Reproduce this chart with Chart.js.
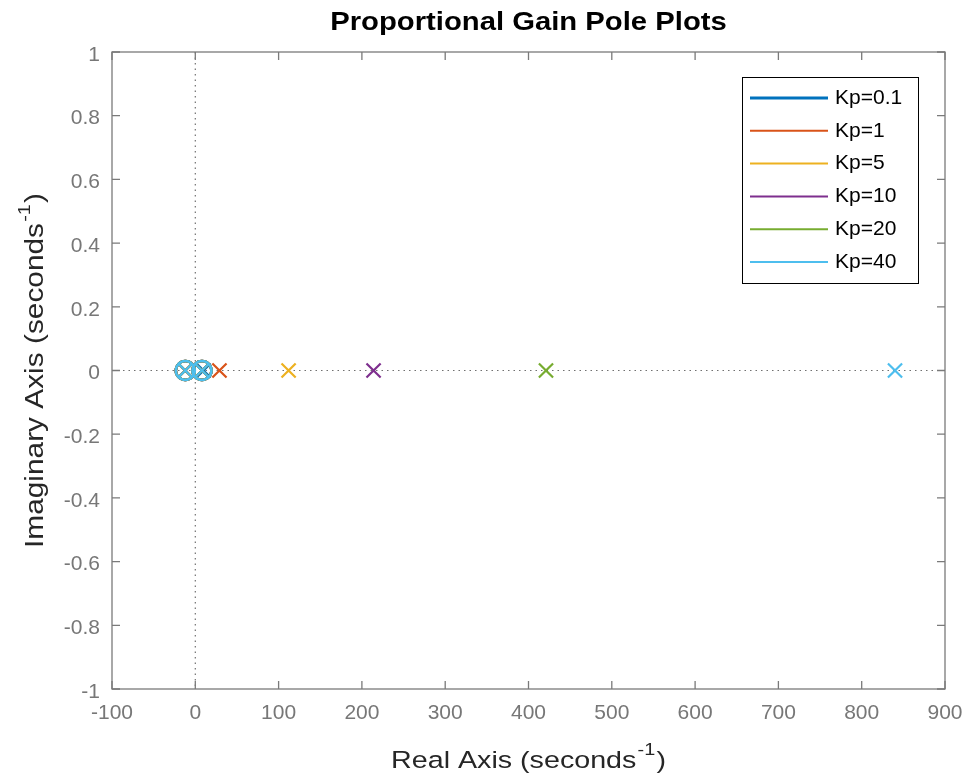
<!DOCTYPE html>
<html><head><meta charset="utf-8">
<script src="https://cdn.jsdelivr.net/npm/chart.js@4/dist/chart.umd.min.js"></script>
<style>html,body{margin:0;padding:0;background:#fff}#wrap{width:969px;height:779px}</style>
</head><body><div id="wrap"><canvas id="c" width="969" height="779"></canvas></div>
<script>
// ---- data ----
const seriesLabels = ['Kp=0.1','Kp=1','Kp=5','Kp=10','Kp=20','Kp=40'];
const seriesColors = ['#0072BD','#D95319','#EDB120','#7E2F8E','#77AC30','#4DBEEE'];
const mainPoleReal = [10, 29, 112, 214, 421, 840];
const clusterPoleRealA = [-12, -12, -12, -12, -12, -12];
const clusterPoleRealB = [8, 8, 8, 8, 8, 8];
const zeroRealA = [-12, -12, -12, -12, -12, -12];
const zeroRealB = [8, 8, 8, 8, 8, 8];
const imagPart = [0, 0, 0, 0, 0, 0];
const xTickValues = [-100, 0, 100, 200, 300, 400, 500, 600, 700, 800, 900];
const yTickValues = [-1, -0.8, -0.6, -0.4, -0.2, 0, 0.2, 0.4, 0.6, 0.8, 1];
const yTickLabels = ['-1','-0.8','-0.6','-0.4','-0.2','0','0.2','0.4','0.6','0.8','1'];
const chartTitle = 'Proportional Gain Pole Plots';
const xTitleParts = ['Real Axis (seconds', '-1', ')'];
const yTitleParts = ['Imaginary Axis (seconds', '-1', ')'];

const FONT = '"Liberation Sans", Arial, Helvetica, sans-serif';
const TEXT_STRETCH = 1.17;

const datasets = [];
seriesLabels.forEach((lab, i) => {
  datasets.push({
    label: lab + ' poles',
    data: [{x: mainPoleReal[i], y: imagPart[i]}, {x: clusterPoleRealA[i], y: imagPart[i]}, {x: clusterPoleRealB[i], y: imagPart[i]}],
    pointStyle: 'crossRot', pointRadius: 10, pointHoverRadius: 10,
    borderColor: seriesColors[i], backgroundColor: seriesColors[i], pointBorderWidth: 2.2,
    showLine: false, order: -i
  });
  datasets.push({
    label: lab + ' zeros',
    data: [{x: zeroRealA[i], y: imagPart[i]}, {x: zeroRealB[i], y: imagPart[i]}],
    pointStyle: 'circle', pointRadius: 9.5, pointHoverRadius: 9.5,
    borderColor: seriesColors[i], backgroundColor: 'rgba(0,0,0,0)', pointBorderWidth: 2.5,
    showLine: false, order: -i
  });
});

function drawRichTitle(ctx, parts, cx, cy, rot, size) {
  ctx.save();
  const big = size + 'px ' + FONT, small = Math.round(size * 0.68) + 'px ' + FONT;
  ctx.font = big; const w0 = ctx.measureText(parts[0]).width, w2 = ctx.measureText(parts[2]).width;
  ctx.font = small; const w1 = ctx.measureText(parts[1]).width;
  const total = w0 + w1 + w2 + 2;
  ctx.translate(cx, cy);
  ctx.rotate(rot);
  ctx.scale(TEXT_STRETCH, 1);
  ctx.fillStyle = '#262626';
  ctx.textAlign = 'left';
  ctx.textBaseline = 'middle';
  let xx = -total / 2;
  ctx.font = big; ctx.fillText(parts[0], xx, 0); xx += w0 + 1;
  ctx.font = small; ctx.fillText(parts[1], xx, -size * 0.42); xx += w1 + 1;
  ctx.font = big; ctx.fillText(parts[2], xx, 0);
  ctx.restore();
}

const decorPlugin = {
  id: 'decor',
  beforeDatasetsDraw(chart) {
    const {ctx, chartArea: a, scales: {x, y}} = chart;
    ctx.save();
    ctx.strokeStyle = '#707070';
    ctx.lineWidth = 1.2;
    ctx.setLineDash([1.5, 4]);
    const x0 = x.getPixelForValue(0), y0 = y.getPixelForValue(0);
    ctx.beginPath();
    ctx.moveTo(a.left, y0); ctx.lineTo(a.right, y0);
    ctx.moveTo(x0, a.top); ctx.lineTo(x0, a.bottom);
    ctx.stroke();
    ctx.restore();
  },
  afterDraw(chart) {
    const {ctx, chartArea: a, scales: {x, y}} = chart;
    ctx.save();
    // axes box
    ctx.strokeStyle = '#7a7a7a';
    ctx.lineWidth = 1.3;
    ctx.strokeRect(a.left, a.top, a.right - a.left, a.bottom - a.top);
    // inward ticks
    const tl = 8;
    ctx.beginPath();
    xTickValues.forEach(v => {
      const px = x.getPixelForValue(v);
      ctx.moveTo(px, a.bottom); ctx.lineTo(px, a.bottom - tl);
      ctx.moveTo(px, a.top); ctx.lineTo(px, a.top + tl);
    });
    yTickValues.forEach(v => {
      const py = y.getPixelForValue(v);
      ctx.moveTo(a.left, py); ctx.lineTo(a.left + tl, py);
      ctx.moveTo(a.right, py); ctx.lineTo(a.right - tl, py);
    });
    ctx.stroke();
    // title
    ctx.save();
    ctx.fillStyle = '#000';
    ctx.font = 'bold 25px ' + FONT;
    ctx.textAlign = 'center';
    ctx.textBaseline = 'middle';
    ctx.translate((a.left + a.right) / 2, 23);
    ctx.scale(TEXT_STRETCH, 1);
    ctx.fillText(chartTitle, 0, 0);
    ctx.restore();
    // axis titles
    drawRichTitle(ctx, xTitleParts, (a.left + a.right) / 2, a.bottom + 72, 0, 24.5);
    drawRichTitle(ctx, yTitleParts, 36, (a.top + a.bottom) / 2, -Math.PI / 2, 25.5);
    // legend
    const bx = a.right - 203, by = a.top + 25, bw = 176, bh = 206;
    ctx.fillStyle = '#fff';
    ctx.fillRect(bx, by, bw, bh);
    ctx.strokeStyle = '#000';
    ctx.lineWidth = 1;
    ctx.strokeRect(bx + 0.5, by + 0.5, bw, bh);
    ctx.font = '21px ' + FONT;
    ctx.textAlign = 'left';
    ctx.textBaseline = 'middle';
    seriesLabels.forEach((lab, i) => {
      const ry = by + 21 + i * 32.8;
      ctx.strokeStyle = seriesColors[i];
      ctx.lineWidth = i === 0 ? 3 : 2;
      ctx.beginPath();
      ctx.moveTo(bx + 8, ry); ctx.lineTo(bx + 86, ry);
      ctx.stroke();
      ctx.fillStyle = '#000';
      ctx.fillText(lab, bx + 93, ry);
    });
    ctx.restore();
  }
};

new Chart(document.getElementById('c'), {
  type: 'scatter',
  data: { datasets },
  options: {
    responsive: false,
    animation: false,
    devicePixelRatio: 1,
    layout: { padding: { top: 52, right: 24, left: 0, bottom: 0 } },
    plugins: { legend: { display: false }, title: { display: false }, tooltip: { enabled: false } },
    scales: {
      x: {
        type: 'linear', min: -100, max: 900,
        grid: { display: false, drawTicks: false },
        border: { display: false },
        afterFit: s => { s.height = 90; s.paddingRight = 0; s.paddingLeft = 0; },
        afterBuildTicks: s => { s.ticks = xTickValues.map(v => ({value: v})); },
        ticks: { color: '#777', font: { family: FONT, size: 21 }, padding: 12, maxRotation: 0,
                 callback: v => String(v) },
        title: { display: false }
      },
      y: {
        type: 'linear', min: -1, max: 1,
        grid: { display: false, drawTicks: false },
        border: { display: false },
        afterFit: s => { s.width = 112; s.paddingTop = 0; s.paddingBottom = 0; },
        afterBuildTicks: s => { s.ticks = yTickValues.map(v => ({value: v})); },
        ticks: { color: '#777', font: { family: FONT, size: 21 }, padding: 12, labelOffset: 3,
                 callback: (v) => yTickLabels[yTickValues.findIndex(t => Math.abs(t - v) < 1e-9)] },
        title: { display: false }
      }
    }
  },
  plugins: [decorPlugin]
});
</script></body></html>
